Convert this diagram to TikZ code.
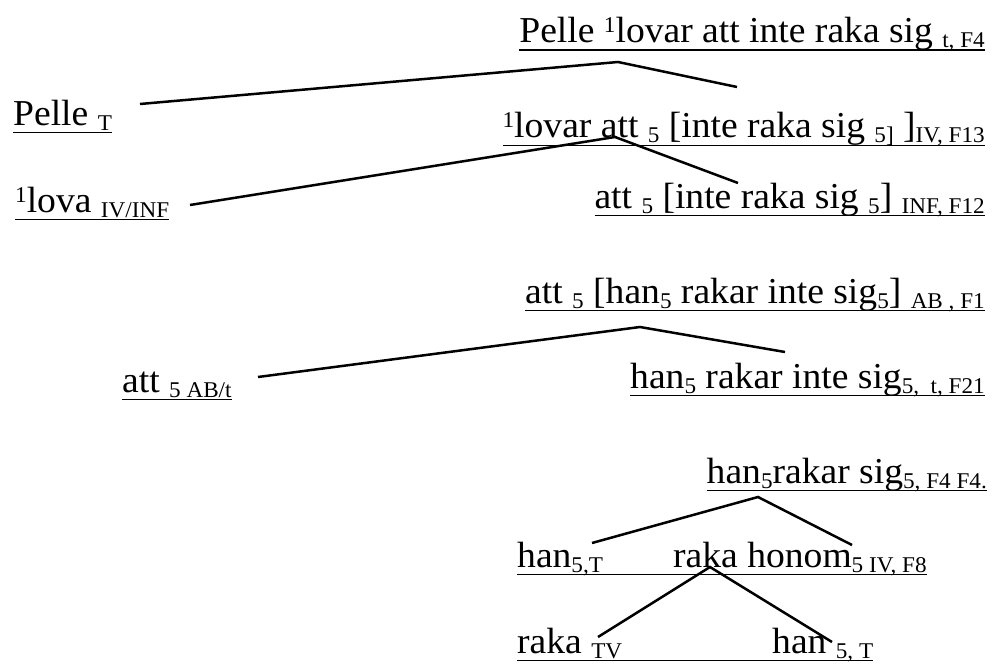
\documentclass[tikz,border=0pt]{standalone}
\usepackage{fontspec}
\setmainfont[FakeStretch=1.03]{Liberation Serif}

% small lowered / raised text and a flat underline
\newcommand{\lo}[1]{\raisebox{-5pt}{\fontsize{22.5}{25}\selectfont #1}}
\newcommand{\hi}[1]{\raisebox{10pt}{\fontsize{22.5}{25}\selectfont #1}}
\newcommand{\ul}[1]{\setbox0=\hbox{#1}\rlap{\rule[-8pt]{\wd0}{1.5pt}}\box0}

\begin{document}
\begin{tikzpicture}[x=1pt, y=-1pt, every node/.style={inner sep=0pt, font=\fontsize{36.5}{40}\selectfont}, branch/.style={line width=2.5pt}]

    \useasboundingbox (0,0) rectangle (995,666);

    % first tree: Pelle lovar att inte raka sig
    \node[anchor=base east] (S1) at (985,43)  {\ul{Pelle \hi{1}lovar att inte raka sig \lo{t, F4}}};
    \node[anchor=base west] (T1) at (13,125)  {\ul{Pelle \lo{T}}};
    \node[anchor=base east] (V1) at (985,138) {\ul{\hi{1}lovar att \lo{5} [inte raka sig \lo{5]} ]\lo{IV, F13}}};
    \node[anchor=base west] (I1) at (15,212)  {\ul{\hi{1}lova \lo{IV/INF}}};
    \node[anchor=base east] (N1) at (985,208) {\ul{att \lo{5} [inte raka sig \lo{5}] \lo{INF, F12}}};

    % ends of the branches
    \coordinate (S1top) at (618,62);
    \coordinate (T1end) at (140,104);
    \coordinate (V1end) at (737,87);
    \coordinate (V1top) at (615,137);
    \coordinate (I1end) at (190,205);
    \coordinate (N1end) at (738,183);

    \draw[branch] (T1end) -- (S1top) -- (V1end);
    \draw[branch] (I1end) -- (V1top) -- (N1end);

    % second tree: att han rakar inte sig
    \node[anchor=base east] (S2) at (985,303) {\ul{att \lo{5} [han\lo{5} rakar inte sig\lo{5}] \lo{AB , F1}}};
    \node[anchor=base west] (A2) at (122,392) {\ul{att \lo{5 AB/t}}};
    \node[anchor=base east] (H2) at (985,388) {\ul{han\lo{5} rakar inte sig\lo{5,\ \ t, F21}}};

    \coordinate (S2top) at (640,327);
    \coordinate (A2end) at (258,377);
    \coordinate (H2end) at (785,352);

    \draw[branch] (A2end) -- (S2top) -- (H2end);

    % third tree: han rakar sig
    \node[anchor=base east] (S3) at (987,483) {\ul{han\lo{5}rakar sig\lo{5, F4 F4.}}};
    \node[anchor=base west] (H3) at (517,567) {\ul{\makebox[156pt][l]{han\lo{5,T}}}};
    \node[anchor=base west] (R3) at (673,567) {\ul{raka honom\lo{5 IV, F8}}};
    \node[anchor=base west] (K3) at (517,653) {\ul{\makebox[255pt][l]{raka \lo{TV}}}};
    \node[anchor=base west] (O3) at (772,653) {\ul{han \lo{5, T}}};

    \coordinate (S3top) at (758,497);
    \coordinate (H3end) at (592,543);
    \coordinate (R3end) at (852,545);
    \coordinate (R3top) at (710,567);
    \coordinate (K3end) at (598,637);
    \coordinate (O3end) at (832,642);

    \draw[branch] (H3end) -- (S3top) -- (R3end);
    \draw[branch] (K3end) -- (R3top) -- (O3end);

\end{tikzpicture}
\end{document}
